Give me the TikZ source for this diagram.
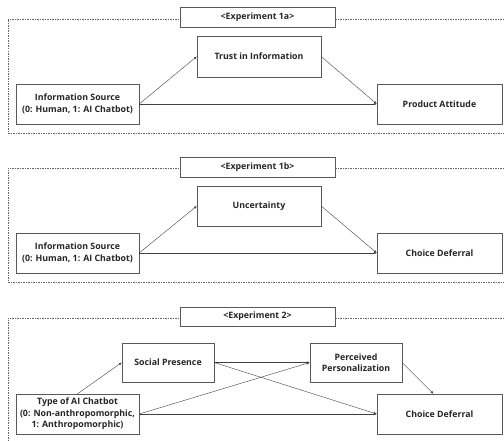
\documentclass[tikz,border=0pt]{standalone}
\usepackage{fontspec}
\setmainfont{Open Sans}
\usetikzlibrary{arrows.meta}
\tikzset{
  varbox/.style={draw=black!65, fill=white, thin, align=center, inner sep=1pt,
    font=\fontsize{8.8}{11.5}\selectfont\bfseries, text=black!85},
  titlebox/.style={varbox, minimum width=155pt, minimum height=20pt},
  path/.style={draw=black!75, thin, -{Latex[length=3pt,width=2.4pt]}},
  frame/.style={draw=black!60, dashed, dash pattern=on 1.5pt off 1pt, thin}
}
\begin{document}
\begin{tikzpicture}[x=1pt,y=-1pt]
\useasboundingbox (0,0) rectangle (504,441);
% Experiment 1a
\draw[frame] (504,19) -- (8,19) -- (8,133) -- (504,133);
\node[titlebox] (title1) at (257.5,17) {<Experiment 1a>};
\node[varbox, minimum width=124pt, minimum height=41pt] (trust) at (259,56.5) {Trust in Information};
\node[varbox, minimum width=123pt, minimum height=40pt] (src1) at (77.5,104) {Information Source\\(0: Human, 1: AI Chatbot)};
\node[varbox, minimum width=125pt, minimum height=40pt] (att) at (439.5,104) {Product Attitude};
\draw[path] (src1.east) -- (trust.west);
\draw[path] (trust.east) -- (att.west);
\draw[path] (src1.east) -- (att.west);
% Experiment 1b
\draw[frame] (504,168) -- (8,168) -- (8,282) -- (504,282);
\node[titlebox] (title2) at (257.5,167) {<Experiment 1b>};
\node[varbox, minimum width=124pt, minimum height=40pt] (unc) at (259,206) {Uncertainty};
\node[varbox, minimum width=123pt, minimum height=40pt] (src2) at (77.5,253) {Information Source\\(0: Human, 1: AI Chatbot)};
\node[varbox, minimum width=125pt, minimum height=40pt] (def2) at (439.5,253) {Choice Deferral};
\draw[path] (src2.east) -- (unc.west);
\draw[path] (unc.east) -- (def2.west);
\draw[path] (src2.east) -- (def2.west);
% Experiment 2
\draw[frame] (504,318) -- (8,318) -- (8,441);
\node[titlebox, minimum height=19pt] (title3) at (257.5,316.5) {<Experiment 2>};
\node[varbox, minimum width=92pt, minimum height=39pt] (soc) at (168,362.5) {Social Presence};
\node[varbox, minimum width=92pt, minimum height=39pt] (per) at (356,362.5) {Perceived\\Personalization};
\node[varbox, minimum width=123pt, minimum height=40pt] (typ) at (77.5,414) {Type of AI Chatbot\\(0: Non-anthropomorphic,\\1: Anthropomorphic)};
\node[varbox, minimum width=125pt, minimum height=40pt] (def3) at (439.5,414) {Choice Deferral};
\draw[path] (typ.north) -- (soc.west);
\draw[path] (soc.east) -- (per.west);
\draw[path] (soc.east) -- (def3.west);
\draw[path] (typ.east) -- (per.west);
\draw[path] (typ.east) -- (def3.west);
\draw[path] (per.east) -- ([xshift=-6pt]def3.north);
\end{tikzpicture}
\end{document}
